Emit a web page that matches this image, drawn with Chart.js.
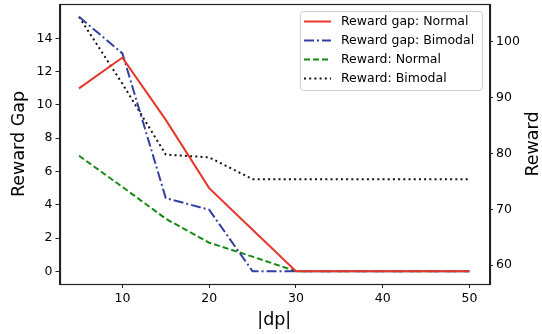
<!DOCTYPE html>
<html>
<head>
<meta charset="utf-8">
<script src="https://cdn.jsdelivr.net/npm/chart.js@4/dist/chart.umd.min.js"></script>
<style>
  html, body { margin: 0; padding: 0; background: #fff; }
  #wrap { width: 542px; height: 334px; }
</style>
</head>
<body>
<div id="wrap"><canvas id="chart"></canvas></div>
<script>
// data
const dpValues = [5, 10, 15, 20, 25, 30, 35, 40, 45, 50];
const gapNormal = [11.0, 12.85, 9.1, 5.0, 2.5, 0, 0, 0, 0, 0];
const gapBimodal = [15.3, 13.1, 4.4, 3.7, 0, 0, 0, 0, 0, 0];
const rewardNormal = [79.6, 74.0, 68.3, 64.0, 61.5, 58.9, 58.9, 58.9, 58.9, 58.9];
const rewardBimodal = [104.5, 92.5, 79.8, 79.3, 75.4, 75.4, 75.4, 75.4, 75.4, 75.4];

const xTicks = [10, 20, 30, 40, 50];
const gapTicks = [0, 2, 4, 6, 8, 10, 12, 14];
const rewardTicks = [60, 70, 80, 90, 100];

const FONT = "'DejaVu Sans', sans-serif";
const AXIS = "#222";

const toPoints = (ys) => dpValues.map((x, i) => ({ x: x, y: ys[i] }));

// draws the box, axis titles and the legend like matplotlib does
const framePlugin = {
  id: "frame",
  afterDraw(chart) {
    const ctx = chart.ctx;
    const a = chart.chartArea;
    ctx.save();
    ctx.strokeStyle = AXIS;
    ctx.lineWidth = 1.2;
    ctx.strokeRect(Math.round(a.left) + 0.5, Math.round(a.top) + 0.5,
      Math.round(a.right - a.left), Math.round(a.bottom - a.top));

    // axis titles
    ctx.fillStyle = "#000";
    ctx.font = "17.5px " + FONT;
    ctx.textAlign = "center";
    ctx.textBaseline = "middle";
    const midY = (a.top + a.bottom) / 2;
    ctx.save();
    ctx.translate(19, midY);
    ctx.rotate(-Math.PI / 2);
    ctx.fillText("Reward Gap", 0, 0);
    ctx.restore();
    ctx.save();
    ctx.translate(533, midY);
    ctx.rotate(-Math.PI / 2);
    ctx.fillText("Reward", 0, 0);
    ctx.restore();
    ctx.fillText("|dp|", (a.left + a.right) / 2, 320);

    // legend in the upper right corner
    const bx = 300, by = 11, bw = 182, bh = 79;
    ctx.fillStyle = "rgba(255,255,255,0.8)";
    ctx.strokeStyle = "#d0d0d0";
    ctx.lineWidth = 1;
    ctx.beginPath();
    ctx.roundRect(bx + 0.5, by + 0.5, bw, bh, 3);
    ctx.fill();
    ctx.stroke();
    ctx.font = "12.5px " + FONT;
    ctx.textAlign = "left";
    chart.data.datasets.forEach((ds, i) => {
      const y = by + 10.5 + i * 19;
      ctx.strokeStyle = ds.borderColor;
      ctx.lineWidth = ds.borderWidth;
      ctx.setLineDash(ds.borderDash || []);
      ctx.beginPath();
      ctx.moveTo(304, y);
      ctx.lineTo(331, y);
      ctx.stroke();
      ctx.setLineDash([]);
      ctx.fillStyle = "#000";
      ctx.fillText(ds.label, 341, y);
    });
    ctx.restore();
  }
};

const tickFont = { family: FONT, size: 12.5 };

const fitY = (w) => (s) => {
  s.width = w;
  s.paddingTop = 0;
  s.paddingBottom = 0;
};

new Chart(document.getElementById("chart"), {
  type: "line",
  data: {
    datasets: [
      {
        label: "Reward gap: Normal",
        data: toPoints(gapNormal),
        yAxisID: "yGap",
        borderColor: "#e8362a",
        borderWidth: 2,
      },
      {
        label: "Reward gap: Bimodal",
        data: toPoints(gapBimodal),
        yAxisID: "yGap",
        borderColor: "#2f3fa6",
        borderWidth: 2,
        borderDash: [10, 3, 2, 3],
      },
      {
        label: "Reward: Normal",
        data: toPoints(rewardNormal),
        yAxisID: "yReward",
        borderColor: "#138a13",
        borderWidth: 2,
        borderDash: [6, 3],
      },
      {
        label: "Reward: Bimodal",
        data: toPoints(rewardBimodal),
        yAxisID: "yReward",
        borderColor: "#111",
        borderWidth: 2,
        borderDash: [2, 3.2],
      },
    ],
  },
  options: {
    responsive: true,
    maintainAspectRatio: false,
    animation: false,
    layout: { padding: { top: 4 } },
    elements: { point: { radius: 0 }, line: { tension: 0 } },
    plugins: { legend: { display: false }, tooltip: { enabled: false } },
    scales: {
      x: {
        type: "linear",
        min: 2.75,
        max: 52.25,
        afterBuildTicks: (s) => { s.ticks = xTicks.map((v) => ({ value: v })); },
        afterFit: (s) => { s.height = 50; s.paddingLeft = 0; s.paddingRight = 0; },
        grid: { drawOnChartArea: false, tickLength: 4, color: AXIS },
        border: { color: AXIS },
        ticks: { color: "#000", font: tickFont, padding: 3, maxRotation: 0 },
      },
      yGap: {
        position: "left",
        min: -0.765,
        max: 16.07,
        afterBuildTicks: (s) => { s.ticks = gapTicks.map((v) => ({ value: v })); },
        afterFit: fitY(59.5),
        grid: { drawOnChartArea: false, tickLength: 4, color: AXIS },
        border: { color: AXIS },
        ticks: { color: "#000", font: tickFont, padding: 3 },
      },
      yReward: {
        position: "right",
        min: 56.6,
        max: 106.8,
        afterBuildTicks: (s) => { s.ticks = rewardTicks.map((v) => ({ value: v })); },
        afterFit: fitY(53),
        grid: { drawOnChartArea: false, tickLength: 4, color: AXIS },
        border: { color: AXIS },
        ticks: { color: "#000", font: tickFont, padding: 3 },
      },
    },
  },
  plugins: [framePlugin],
});
</script>
</body>
</html>
